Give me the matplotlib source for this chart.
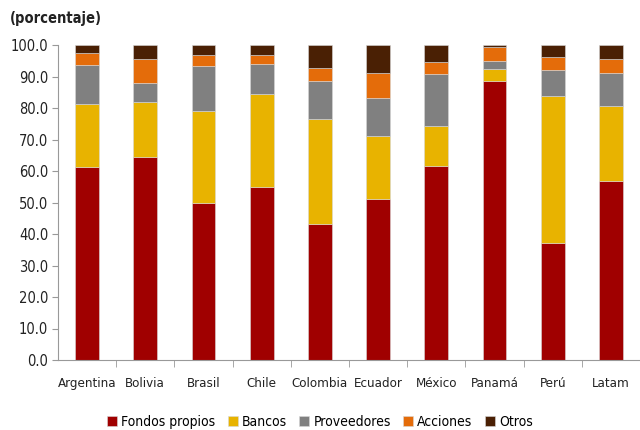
import matplotlib
matplotlib.use('Agg')
import matplotlib.pyplot as plt
import numpy as np

plt.rcParams['font.family'] = ['DejaVu Sans']
plt.rcParams['font.stretch'] = 'condensed'

paises = ["Argentina", "Bolivia", "Brasil", "Chile", "Colombia", "Ecuador",
          "México", "Panamá", "Perú", "Latam"]

fondos_propios = [61.4, 64.5, 49.8, 55.0, 43.2, 51.0, 61.7, 88.7, 37.0, 56.8]
bancos = [19.9, 17.5, 29.3, 29.5, 33.3, 20.1, 12.6, 3.6, 46.9, 23.7]
proveedores = [12.2, 6.0, 14.2, 9.5, 12.0, 12.0, 16.4, 2.7, 8.1, 10.5]
acciones = [3.9, 7.7, 3.6, 2.7, 4.1, 8.0, 4.0, 4.5, 4.2, 4.6]
otros = [2.6, 4.3, 3.1, 3.3, 7.4, 8.9, 5.3, 0.5, 3.8, 4.4]

series = [("Fondos propios", fondos_propios, "#a00000"),
          ("Bancos", bancos, "#e8b300"),
          ("Proveedores", proveedores, "#808080"),
          ("Acciones", acciones, "#e46c0a"),
          ("Otros", otros, "#4a2004")]

fig = plt.figure(figsize=(6.4, 4.3), dpi=100)
ax = fig.add_axes([58 / 640, 1 - 360 / 430, 582 / 640, 315 / 430])

x = np.arange(len(paises))
base = np.zeros(len(paises))
handles = []
for nombre, vals, color in series:
    b = ax.bar(x, vals, width=0.41, bottom=base, color=color,
               edgecolor="#d8d8d8", linewidth=0.4, label=nombre)
    handles.append(b)
    base += np.array(vals)

ax.set_xlim(-0.5, 9.5)
ax.set_ylim(0, 100)
ax.set_yticks(np.arange(0, 101, 10))
ax.set_yticklabels([f"{v:.1f}" for v in np.arange(0, 101, 10)])
ax.set_xticks(x)
ax.set_xticklabels(paises)
ax.set_xticks(np.arange(0.5, 9.5, 1), minor=True)
ax.tick_params(axis="x", which="major", length=0, pad=12, labelsize=9.5, colors="#222222")
ax.tick_params(axis="x", which="minor", length=5, color="#999999")
ax.tick_params(axis="y", length=4, color="#999999", labelsize=10.5, colors="#222222", pad=3)
for s in ["top", "right"]:
    ax.spines[s].set_visible(False)
for s in ["left", "bottom"]:
    ax.spines[s].set_color("#999999")
    ax.spines[s].set_linewidth(0.8)

fig.text(10 / 640, 1 - 18 / 430, "(porcentaje)", fontsize=10.5, fontweight="bold",
         va="center", ha="left", color="#222222")

fig.legend(handles=handles, loc="center", bbox_to_anchor=(0.5, 1 - 422 / 430),
           ncol=5, frameon=False, fontsize=10, handlelength=0.7, handleheight=0.7,
           handletextpad=0.3, columnspacing=0.9)

fig.savefig("out.png", dpi=100)
